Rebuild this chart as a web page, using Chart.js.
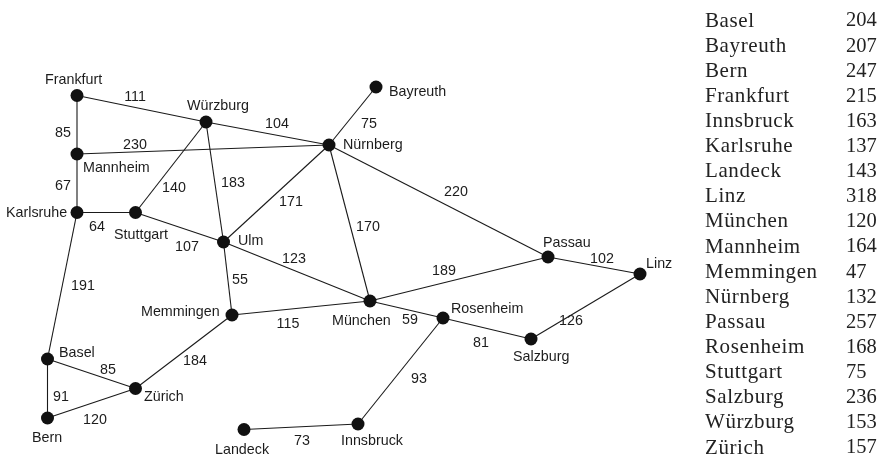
<!DOCTYPE html>
<html><head><meta charset="utf-8">
<style>html,body{margin:0;padding:0;background:#fff}canvas{display:block}</style>
<script src="https://cdn.jsdelivr.net/npm/chart.js@4"></script>
</head><body><canvas id="c" width="883" height="457"></canvas>
<script>
const cities = ["Frankfurt","Würzburg","Bayreuth","Nürnberg","Mannheim","Karlsruhe","Stuttgart","Ulm","München","Passau","Linz","Memmingen","Rosenheim","Salzburg","Basel","Zürich","Bern","Landeck","Innsbruck"];
const cityX = [77,206,376,329,77,77,135.5,223.5,370,548,640,232,443,531,47.5,135.5,47.5,244,358];
const cityY = [95.5,122,87,145,154,212.5,212.5,242,301,257,274,315,318,339,359,388.5,418,429.5,424];
const edgeFrom = ["Frankfurt","Frankfurt","Mannheim","Mannheim","Karlsruhe","Karlsruhe","Stuttgart","Stuttgart","Würzburg","Würzburg","Nürnberg","Nürnberg","Nürnberg","Nürnberg","Ulm","Ulm","Memmingen","Memmingen","München","München","Passau","Linz","Rosenheim","Rosenheim","Innsbruck","Basel","Basel","Bern"];
const edgeTo = ["Würzburg","Mannheim","Nürnberg","Karlsruhe","Stuttgart","Basel","Würzburg","Ulm","Nürnberg","Ulm","Bayreuth","Ulm","München","Passau","München","Memmingen","München","Zürich","Passau","Rosenheim","Linz","Salzburg","Salzburg","Innsbruck","Landeck","Zürich","Bern","Zürich"];
const distances = [111,85,230,67,64,191,140,107,104,183,75,171,170,220,123,55,115,184,189,59,102,126,81,93,73,85,91,120];
const distLabelX = [135,63,135,63,97,83,174,187,277,233,369,291,368,456,294,240,288,195,444,410,602,571,481,419,302,108,61,95];
const distLabelY = [97,133,145,186,227,286,188,247,124,183,124,202,227,192,259,280,324,361,271,320,259,321,343,379,441,370,397,420];
const cityLabelX = [45,187,389,343,83,6,114,238,332,543,646,141,451,513,59,144,32,215,341];
const cityLabelY = [80,106,92,145,168,213,235,241,321,243,264,312,309,357,353,397,438,450,441];
const tableNames = ["Basel","Bayreuth","Bern","Frankfurt","Innsbruck","Karlsruhe","Landeck","Linz","München","Mannheim","Memmingen","Nürnberg","Passau","Rosenheim","Stuttgart","Salzburg","Würzburg","Zürich"];
const tableValues = [204,207,247,215,163,137,143,318,120,164,47,132,257,168,75,236,153,157];

const pt = n => { const i = cities.indexOf(n); return {x: cityX[i], y: cityY[i]}; };
const edgeSets = edgeFrom.map((f,i)=>({
  type:'line', data:[pt(f),pt(edgeTo[i])], borderColor:'#1a1a1a', borderWidth:1.1,
  pointRadius:0, fill:false, tension:0, order:2
}));
const nodeSet = {
  type:'scatter', data:cities.map(pt), backgroundColor:'#111', borderColor:'#111',
  pointRadius:6.5, pointHoverRadius:6.5, borderWidth:0, order:1
};
const textPlugin = {
  id:'graphText',
  afterDatasetsDraw(chart){
    const {ctx,scales:{x,y}} = chart;
    ctx.save();
    ctx.fillStyle = '#1c1c1c';
    ctx.textBaseline = 'middle';
    ctx.font = '14.3px "Liberation Sans", Arial, sans-serif';
    ctx.textAlign = 'left';
    cities.forEach((c,i)=>ctx.fillText(c, x.getPixelForValue(cityLabelX[i]), y.getPixelForValue(cityLabelY[i])));
    ctx.textAlign = 'center';
    distances.forEach((d,i)=>ctx.fillText(String(d), x.getPixelForValue(distLabelX[i]), y.getPixelForValue(distLabelY[i])));
    ctx.fillStyle = '#222';
    ctx.textAlign = 'left';
    tableNames.forEach((n,i)=>{
      const py = y.getPixelForValue(21 + i*25.12);
      ctx.font = '21px "Liberation Serif", "Times New Roman", serif';
      ctx.letterSpacing = '0.6px';
      ctx.fillText(n, x.getPixelForValue(705), py);
      ctx.font = '20.5px "Liberation Serif", "Times New Roman", serif';
      ctx.letterSpacing = '0px';
      ctx.fillText(String(tableValues[i]), x.getPixelForValue(846), py);
    });
    ctx.restore();
  }
};
new Chart(document.getElementById('c'),{
  data:{datasets:[...edgeSets,nodeSet]},
  options:{
    responsive:false, animation:false, events:[],
    layout:{padding:0,autoPadding:false},
    plugins:{legend:{display:false},tooltip:{enabled:false},title:{display:false}},
    scales:{
      x:{type:'linear',min:0,max:883,display:false},
      y:{type:'linear',min:0,max:457,reverse:true,display:false}
    }
  },
  plugins:[textPlugin]
});
</script></body></html>
